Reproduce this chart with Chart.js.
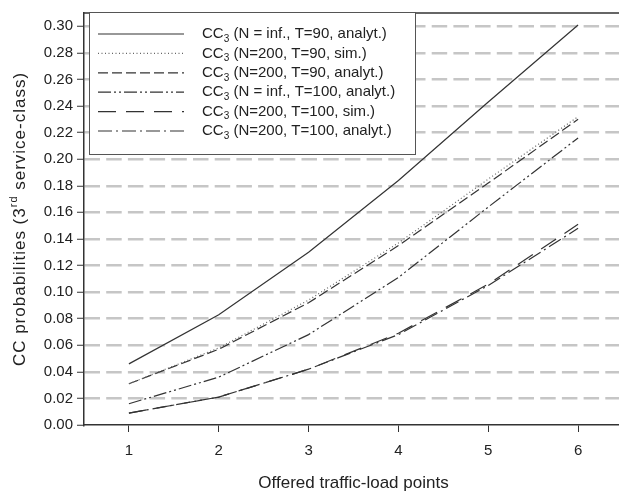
<!DOCTYPE html>
<html>
<head>
<meta charset="utf-8">
<script src="https://cdn.jsdelivr.net/npm/chart.js@4/dist/chart.umd.min.js"></script>
<style>
  html, body { margin: 0; padding: 0; background: #fff; overflow: hidden; }
  #wrap { width: 623px; height: 498px; }
</style>
</head>
<body>
<div id="wrap"><canvas id="cc" width="623" height="498"></canvas></div>
<script>
// offered traffic-load points
var loadPoints = [1, 2, 3, 4, 5, 6]
var xTicks = [1, 2, 3, 4, 5, 6]
var yTicks = [0, 0.02, 0.04, 0.06, 0.08, 0.10, 0.12, 0.14, 0.16, 0.18, 0.20, 0.22, 0.24, 0.26, 0.28, 0.30]

// CC probabilities of the 3rd service-class
var ccInfT90 = [0.046, 0.083, 0.130, 0.184, 0.243, 0.301]
var cc200T90Sim = [0.031, 0.058, 0.094, 0.137, 0.185, 0.232]
var cc200T90An = [0.031, 0.057, 0.092, 0.135, 0.182, 0.230]
var ccInfT100 = [0.016, 0.036, 0.068, 0.111, 0.164, 0.216]
var cc200T100Sim = [0.009, 0.021, 0.042, 0.069, 0.106, 0.151]
var cc200T100An = [0.009, 0.021, 0.042, 0.068, 0.105, 0.148]

var seriesLabels = [
  " (N = inf., T=90, analyt.)",
  " (N=200, T=90, sim.)",
  " (N=200, T=90, analyt.)",
  " (N = inf., T=100, analyt.)",
  " (N=200, T=100, sim.)",
  " (N=200, T=100, analyt.)",
]

var FONT = '"Liberation Sans", Arial, sans-serif'

function pts(arr) {
  return loadPoints.map(function (x, i) { return { x: x, y: arr[i] } })
}

function line(label, arr, dash, color) {
  return {
    label: label,
    data: pts(arr),
    borderColor: color,
    borderWidth: 1.2,
    borderDash: dash,
    pointRadius: 0,
    tension: 0,
    fill: false,
  }
}

var datasets = [
  line(seriesLabels[0], ccInfT90, [], "#333"),
  line(seriesLabels[1], cc200T90Sim, [1, 2.5], "#666"),
  line(seriesLabels[2], cc200T90An, [10, 4], "#333"),
  line(seriesLabels[3], ccInfT100, [13, 3, 2, 3, 2, 3], "#333"),
  line(seriesLabels[4], cc200T100Sim, [18, 10], "#333"),
  line(seriesLabels[5], cc200T100An, [14, 4, 2, 4], "#333"),
]

// frame top, titles and the boxed legend
var decorations = {
  id: "decorations",
  afterDraw: function (chart) {
    var ctx = chart.ctx
    var a = chart.chartArea
    ctx.save()
    ctx.strokeStyle = "#333"
    ctx.lineWidth = 1.5
    ctx.beginPath()
    ctx.moveTo(a.left, a.top)
    ctx.lineTo(a.right, a.top)
    ctx.stroke()

    // legend box
    var bx = 89, by = 12, bw = 326, bh = 142
    ctx.fillStyle = "#fff"
    ctx.fillRect(bx, by, bw, bh)
    ctx.strokeStyle = "#555"
    ctx.lineWidth = 1
    ctx.strokeRect(bx + 0.5, by + 0.5, bw, bh)

    chart.data.datasets.forEach(function (ds, i) {
      var y = 34 + i * 19.4
      ctx.strokeStyle = ds.borderColor
      ctx.lineWidth = ds.borderWidth
      ctx.setLineDash(ds.borderDash)
      ctx.beginPath()
      ctx.moveTo(98, y)
      ctx.lineTo(184, y)
      ctx.stroke()
      ctx.setLineDash([])

      ctx.fillStyle = "#222"
      ctx.textBaseline = "middle"
      ctx.textAlign = "left"
      ctx.font = "15px " + FONT
      var x = 202
      ctx.fillText("CC", x, y)
      x += ctx.measureText("CC").width
      ctx.font = "10px " + FONT
      ctx.fillText("3", x, y + 5)
      x += ctx.measureText("3").width
      ctx.font = "15px " + FONT
      ctx.fillText(ds.label, x, y)
    })

    // x title
    ctx.fillStyle = "#222"
    ctx.font = "17px " + FONT
    ctx.textAlign = "center"
    ctx.textBaseline = "middle"
    ctx.fillText("Offered traffic-load points", (a.left + 578 + 129 - a.left) / 2 + 0, 483)

    // y title with superscript
    ctx.translate(20, (a.top + a.bottom) / 2)
    ctx.rotate(-Math.PI / 2)
    ctx.textAlign = "left"
    ctx.letterSpacing = "1px"
    var big = "17px " + FONT, small = "11px " + FONT
    var p1 = "CC probabilities (3", p2 = "rd", p3 = " service-class)"
    ctx.font = big
    var w1 = ctx.measureText(p1).width, w3 = ctx.measureText(p3).width
    ctx.font = small
    var w2 = ctx.measureText(p2).width
    var sx = -(w1 + w2 + w3) / 2
    ctx.font = big
    ctx.fillText(p1, sx, 0)
    ctx.font = small
    ctx.fillText(p2, sx + w1, -6)
    ctx.font = big
    ctx.fillText(p3, sx + w1 + w2, 0)
    ctx.restore()
  },
}

new Chart(document.getElementById("cc"), {
  type: "line",
  data: { datasets: datasets },
  plugins: [decorations],
  options: {
    responsive: false,
    animation: false,
    layout: { padding: { top: 8, right: 0, left: 0, bottom: 0 } },
    plugins: { legend: { display: false }, tooltip: { enabled: false } },
    scales: {
      x: {
        type: "linear",
        min: 0.5,
        max: 6.5,
        afterBuildTicks: function (s) { s.ticks = xTicks.map(function (v) { return { value: v } }) },
        afterFit: function (s) { s.height = 73 },
        grid: { drawOnChartArea: false, tickLength: 7, tickColor: "#333", tickWidth: 1 },
        border: { display: true, color: "#333", width: 1.5 },
        ticks: { font: { family: FONT, size: 15 }, color: "#222", padding: 10, maxRotation: 0 },
      },
      y: {
        min: 0,
        max: 0.31,
        afterBuildTicks: function (s) { s.ticks = yTicks.map(function (v) { return { value: v } }) },
        afterFit: function (s) { s.width = 84 },
        grid: {
          color: function (c) { return c.tick && c.tick.value === 0 ? "rgba(0,0,0,0)" : "#c6c6c6" },
          lineWidth: 2.5,
          tickLength: 7,
          tickColor: "#333",
          tickWidth: 1,
        },
        border: { display: true, color: "#333", width: 1.5, dash: [15.5, 6.2] },
        ticks: {
          font: { family: FONT, size: 15 },
          color: "#222",
          padding: 4,
          callback: function (v) { return v.toFixed(2) },
        },
      },
    },
  },
})
</script>
</body>
</html>
